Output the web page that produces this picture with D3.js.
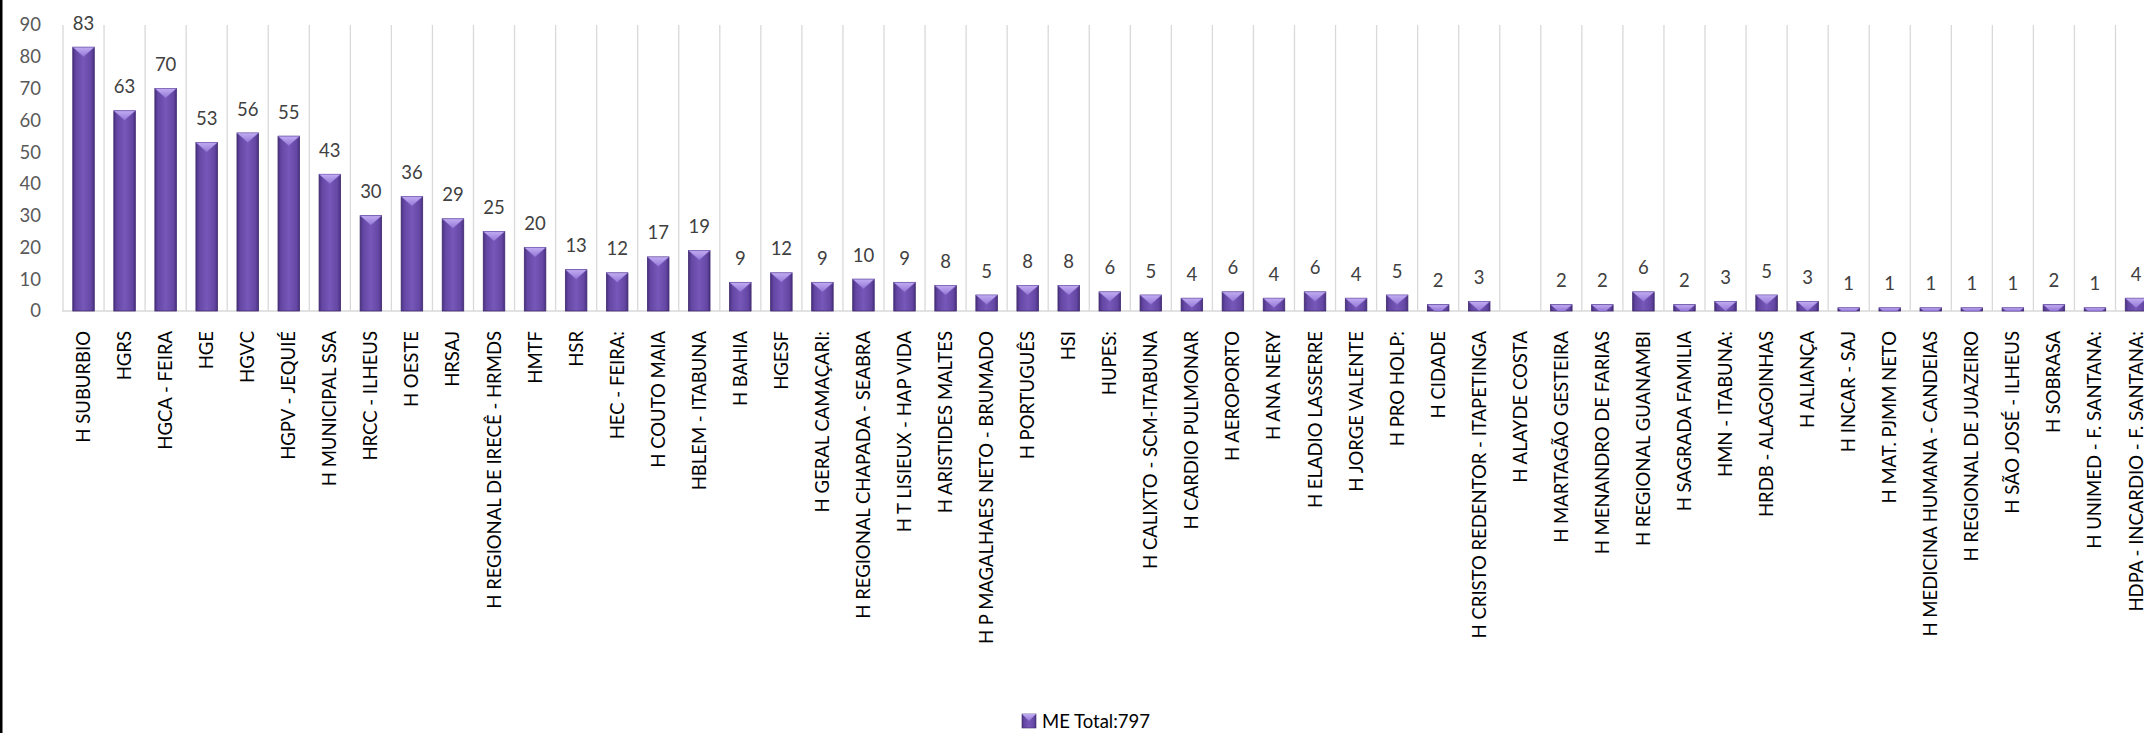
<!DOCTYPE html>
<html>
<head>
<meta charset="utf-8">
<script src="https://cdn.jsdelivr.net/npm/d3@7"></script>
<style>
  html, body { margin: 0; padding: 0; background: #fff; overflow: hidden; }
  svg { display: block; font-family: Lato, "Open Sans", sans-serif; }
</style>
</head>
<body>
<svg id="chart" width="2144" height="733"></svg>
<script>
const categories = [
  "H SUBURBIO", "HGRS", "HGCA - FEIRA", "HGE", "HGVC", "HGPV - JEQUIÉ", "H MUNICIPAL SSA",
  "HRCC - ILHEUS", "H OESTE", "HRSAJ", "H REGIONAL DE IRECÊ - HRMDS", "HMTF", "HSR",
  "HEC - FEIRA:", "H COUTO MAIA", "HBLEM - ITABUNA", "H BAHIA", "HGESF", "H GERAL CAMAÇARI:",
  "H REGIONAL CHAPADA - SEABRA", "H T LISIEUX - HAP VIDA", "H ARISTIDES MALTES",
  "H P MAGALHAES NETO - BRUMADO", "H PORTUGUÊS", "HSI", "HUPES:", "H CALIXTO - SCM-ITABUNA",
  "H CARDIO PULMONAR", "H AEROPORTO", "H ANA NERY", "H ELADIO LASSERRE", "H JORGE VALENTE",
  "H PRO HOLP:", "H CIDADE", "H CRISTO REDENTOR - ITAPETINGA", "H ALAYDE COSTA",
  "H MARTAGÃO GESTEIRA", "H MENANDRO DE FARIAS", "H REGIONAL GUANAMBI", "H SAGRADA FAMILIA",
  "HMN - ITABUNA:", "HRDB - ALAGOINHAS", "H ALIANÇA", "H INCAR - SAJ", "H MAT. PJMM NETO",
  "H MEDICINA HUMANA - CANDEIAS", "H REGIONAL DE JUAZEIRO", "H SÃO JOSÉ - ILHEUS", "H SOBRASA",
  "H UNIMED - F. SANTANA:", "HDPA - INCARDIO - F. SANTANA:"
];
const values = [
  83, 63, 70, 53, 56, 55, 43,
  30, 36, 29, 25, 20, 13,
  12, 17, 19, 9, 12, 9,
  10, 9, 8,
  5, 8, 8, 6, 5,
  4, 6, 4, 6, 4,
  5, 2, 3, null,
  2, 2, 6, 2,
  3, 5, 3, 1, 1,
  1, 1, 1, 2,
  1, 4
];
const yTicks = [0, 10, 20, 30, 40, 50, 60, 70, 80, 90];
const seriesName = "ME Total:797";

const svg = d3.select("#chart");
const W = 2144, H = 733;
const step = 41.05;
const x0 = 63;
const yTop = 25, yBase = 311;

const x = d3.scaleBand()
  .domain(categories)
  .range([x0, x0 + step * categories.length])
  .paddingInner(0.476)
  .paddingOuter(0.238);
const y = d3.scaleLinear().domain([0, 90]).range([yBase, yTop]);

// defs
const defs = svg.append("defs");
const gBody = defs.append("linearGradient").attr("id", "gBody").attr("x1", "0").attr("x2", "1").attr("y1", "0").attr("y2", "0");
[["0%", "#4a3080"], ["14%", "#6446a3"], ["50%", "#7758b9"], ["86%", "#6446a3"], ["100%", "#4a3080"]]
  .forEach(([o, c]) => gBody.append("stop").attr("offset", o).attr("stop-color", c));
const gTop = defs.append("linearGradient").attr("id", "gTop").attr("x1", "0").attr("x2", "0").attr("y1", "0").attr("y2", "1");
[["0%", "#c2acf2"], ["100%", "#9478d6"]]
  .forEach(([o, c]) => gTop.append("stop").attr("offset", o).attr("stop-color", c));

// left black edge
svg.append("rect").attr("x", 0).attr("y", 0).attr("width", 2.5).attr("height", H).attr("fill", "#000");

// vertical gridlines at band boundaries
const bounds = d3.range(categories.length + 1).map(i => x0 + i * x.step());
svg.append("g").selectAll("line").data(bounds).join("line")
  .attr("x1", d => d).attr("x2", d => d)
  .attr("y1", yTop).attr("y2", yBase)
  .attr("stroke", "#d9d9d9").attr("stroke-width", 1.3);

// baseline
svg.append("line")
  .attr("x1", x0 - 1).attr("x2", W).attr("y1", yBase).attr("y2", yBase)
  .attr("stroke", "#d9d9d9").attr("stroke-width", 1.5);

// y axis tick labels
const yAxis = d3.axisLeft(y).tickValues(yTicks).tickSize(0).tickPadding(0);
const gy = svg.append("g").attr("transform", `translate(41,0)`).call(yAxis);
gy.select(".domain").remove();
gy.selectAll("text")
  .attr("font-family", "Lato, sans-serif")
  .attr("font-size", 18.5)
  .attr("fill", "#595959");

// bars
const data = categories.map((c, i) => ({ c, v: values[i] })).filter(d => d.v != null);
const bw = x.bandwidth();
const bars = svg.append("g").selectAll("g").data(data).join("g");
bars.append("rect")
  .attr("x", d => x(d.c)).attr("y", d => y(d.v))
  .attr("width", bw).attr("height", d => yBase - y(d.v))
  .attr("fill", "url(#gBody)")
  .attr("stroke", "#3f2a6e").attr("stroke-width", 0.8);
bars.append("polygon")
  .attr("points", d => {
    const L = x(d.c), R = L + bw, T = y(d.v), h = yBase - T;
    const depth = 9.5;
    if (h >= depth) {
      return [[L, T], [R, T], [L + bw / 2, T + depth]].map(p => p.join(",")).join(" ");
    }
    const k = (bw / 2) * (h / depth);
    return [[L, T], [R, T], [R - k, T + h], [L + k, T + h]].map(p => p.join(",")).join(" ");
  })
  .attr("fill", "url(#gTop)")
  .attr("stroke", "#7e62c4").attr("stroke-width", 0.5);

// data labels
svg.append("g").selectAll("text").data(data).join("text")
  .attr("x", d => x(d.c) + bw / 2)
  .attr("y", d => y(d.v) - 17.5)
  .attr("text-anchor", "middle")
  .attr("font-family", "Lato, sans-serif")
  .attr("font-size", 18.5)
  .attr("fill", "#404040")
  .text(d => d.v);

// category labels (rotated)
const xAxis = d3.axisBottom(x).tickSize(0).tickPadding(0);
const gx = svg.append("g").attr("transform", `translate(0,${yBase})`).call(xAxis);
gx.select(".domain").remove();
gx.selectAll("text")
  .attr("font-family", "Lato, sans-serif")
  .attr("font-size", 18.5)
  .attr("fill", "#000")
  .attr("text-anchor", "end")
  .attr("dy", null)
  .attr("y", 0)
  .attr("transform", "translate(6.5,20) rotate(-90)");

// legend
const lg = svg.append("g").attr("transform", "translate(1022,714)");
lg.append("rect").attr("x", 0).attr("y", 0).attr("width", 14).attr("height", 14)
  .attr("fill", "url(#gBody)").attr("stroke", "#3f2a6e").attr("stroke-width", 0.6);
lg.append("polygon").attr("points", "0,0 14,0 7,7").attr("fill", "url(#gTop)");
lg.append("text").attr("x", 20).attr("y", 13.5)
  .attr("font-family", "Lato, sans-serif").attr("font-size", 18.5).attr("fill", "#000")
  .text(seriesName);
</script>
</body>
</html>
